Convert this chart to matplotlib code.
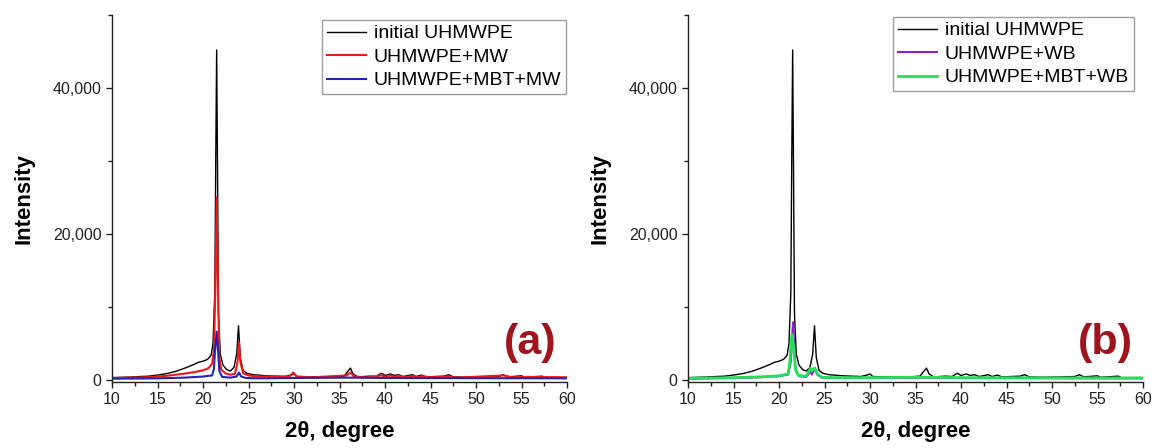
import matplotlib
matplotlib.use("Agg")
import matplotlib.pyplot as plt
from matplotlib.ticker import MultipleLocator, FuncFormatter

plt.rcParams['font.family'] = ['Liberation Sans', 'DejaVu Sans']

# ---------------- data ----------------
x_initial = [10, 12, 14, 15, 16, 17, 18, 19, 19.5, 20, 20.5, 20.9, 21.1, 21.3, 21.4, 21.5,
             21.6, 21.7, 21.9, 22.2, 22.6, 23.0, 23.4, 23.7, 23.9, 24.1, 24.4, 24.8, 25.5,
             27, 29, 29.8, 30.0, 30.3, 32, 34, 35.5, 36.0, 36.2, 36.5, 37, 38.3, 39.0,
             39.6, 40.0, 40.6, 41.0, 41.5, 42, 43, 43.4, 44, 44.5, 46.5, 47, 47.5, 49,
             52.5, 53, 53.5, 55, 55.3, 57.3, 57.6, 60]
y_initial = [300, 380, 500, 650, 850, 1150, 1600, 2100, 2400, 2550, 2800, 3400, 5000, 12000,
             30000, 45200, 28000, 9000, 3500, 2000, 1400, 1200, 1700, 3500, 7400, 3000, 1300,
             900, 700, 550, 450, 700, 800, 450, 400, 380, 500, 1300, 1600, 800, 400, 500,
             450, 900, 600, 800, 600, 700, 450, 700, 450, 650, 400, 500, 700, 400, 350, 450,
             700, 400, 550, 350, 500, 300, 300]

x_mw = [10, 14, 16, 18, 19, 20, 20.6, 21.0, 21.2, 21.35, 21.5, 21.65, 21.8, 22.0, 22.5, 23.0,
        23.5, 23.8, 23.95, 24.1, 24.4, 25, 26, 29.5, 29.9, 30.3, 32, 35.8, 36.2, 36.6, 38,
        39.6, 40.1, 40.6, 41.0, 41.5, 42.2, 43, 43.5, 44, 45, 47, 48, 53, 54, 55, 60]
y_mw = [250, 350, 550, 850, 1050, 1300, 1600, 2200, 4000, 12000, 25000, 12000, 3000, 1400,
        850, 700, 800, 2500, 5100, 2500, 900, 600, 450, 450, 1000, 450, 350, 600, 1000, 450,
        350, 600, 400, 600, 400, 550, 350, 500, 350, 500, 350, 450, 300, 600, 350, 400, 350]

x_mbt_mw = [10, 15, 18, 20, 21.0, 21.2, 21.35, 21.5, 21.65, 21.8, 22.1, 23.0, 23.7, 23.95,
            24.2, 24.7, 26, 30, 36.2, 40, 60]
y_mbt_mw = [150, 200, 300, 450, 600, 1500, 4500, 6600, 4000, 1200, 400, 300, 450, 1000,
            450, 250, 200, 250, 300, 250, 200]

x_wb = [10, 15, 18, 20, 21.0, 21.3, 21.45, 21.55, 21.7, 21.85, 22.2, 23.0, 23.3, 23.45,
        23.6, 23.8, 23.95, 24.2, 24.7, 26, 30, 36.2, 40, 60]
y_wb = [150, 250, 350, 500, 700, 2500, 6000, 7900, 4000, 1200, 500, 400, 900, 1400, 700,
        1200, 1500, 700, 300, 250, 250, 300, 250, 200]

x_mbt_wb = [10, 15, 18, 20, 21.0, 21.2, 21.35, 21.45, 21.6, 21.8, 22.1, 23.0, 23.25, 23.45,
            23.6, 23.8, 23.95, 24.2, 24.7, 26, 30, 36.2, 40, 60]
y_mbt_wb = [200, 300, 400, 550, 800, 2500, 5500, 6200, 4500, 1500, 600, 500, 1100, 1600,
            1200, 1500, 1600, 800, 350, 300, 300, 350, 300, 250]

labels_a = ["initial UHMWPE", "UHMWPE+MW", "UHMWPE+MBT+MW"]
labels_b = ["initial UHMWPE", "UHMWPE+WB", "UHMWPE+MBT+WB"]
panel_tags = ["(a)", "(b)"]

# ---------------- figure ----------------
W, H = 1158, 448
fig = plt.figure(figsize=(W / 100, H / 100), dpi=100)

def px_axes(l, r, t, b):
    return fig.add_axes([l / W, 1 - b / H, (r - l) / W, (b - t) / H])

axA = px_axes(112, 567, 15, 382)
axB = px_axes(688, 1143, 15, 382)

c_black = '#000000'
c_red = '#f01818'
c_blue = '#2424b4'
c_purple = '#8a22d0'
c_green = '#22e05a'

axA.plot(x_initial, y_initial, color=c_black, lw=1.0, label=labels_a[0])
axA.plot(x_mw, y_mw, color=c_red, lw=1.5, label=labels_a[1])
axA.plot(x_mbt_mw, y_mbt_mw, color=c_blue, lw=1.5, label=labels_a[2])

axB.plot(x_initial, y_initial, color=c_black, lw=1.0, label=labels_b[0])
axB.plot(x_wb, y_wb, color=c_purple, lw=1.5, label=labels_b[1])
axB.plot(x_mbt_wb, y_mbt_wb, color=c_green, lw=2.0, label=labels_b[2])

fmt = FuncFormatter(lambda v, p: f"{int(v):,}")

for ax, tag, legbox in ((axA, panel_tags[0], (566, 20)), (axB, panel_tags[1], (1134, 17))):
    ax.set_xlim(10, 60)
    ax.set_ylim(-300, 50000)
    ax.spines['top'].set_visible(False)
    ax.spines['right'].set_visible(False)
    for s in ('left', 'bottom'):
        ax.spines[s].set_linewidth(1.0)
        ax.spines[s].set_color('#222222')
    ax.xaxis.set_major_locator(MultipleLocator(5))
    ax.xaxis.set_minor_locator(MultipleLocator(2.5))
    ax.yaxis.set_major_locator(MultipleLocator(20000))
    ax.yaxis.set_minor_locator(MultipleLocator(10000))
    ax.yaxis.set_major_formatter(fmt)
    ax.tick_params(which='major', direction='out', length=4.5, width=1.0, labelsize=11.5,
                   colors='#222222', pad=3)
    ax.tick_params(which='minor', direction='out', length=3, width=1.0, colors='#222222')
    ax.set_xlabel("2θ, degree", fontsize=16, fontweight='bold', labelpad=10)
    ax.set_ylabel("Intensity", fontsize=16, fontweight='bold', labelpad=13)
    ax.text(55.9, 5000, tag, color='#a0141e', fontsize=31, fontweight='bold',
            ha='center', va='center')
    leg = ax.legend(loc='upper right', bbox_to_anchor=(legbox[0] / W, 1 - legbox[1] / H),
                    bbox_transform=fig.transFigure, borderaxespad=0, fontsize=14,
                    frameon=True, fancybox=False, edgecolor='#888888',
                    handlelength=2.0, handletextpad=0.4, borderpad=0.25, labelspacing=0.3)
    leg.get_frame().set_linewidth(1.0)

fig.savefig("out.png", dpi=100)
